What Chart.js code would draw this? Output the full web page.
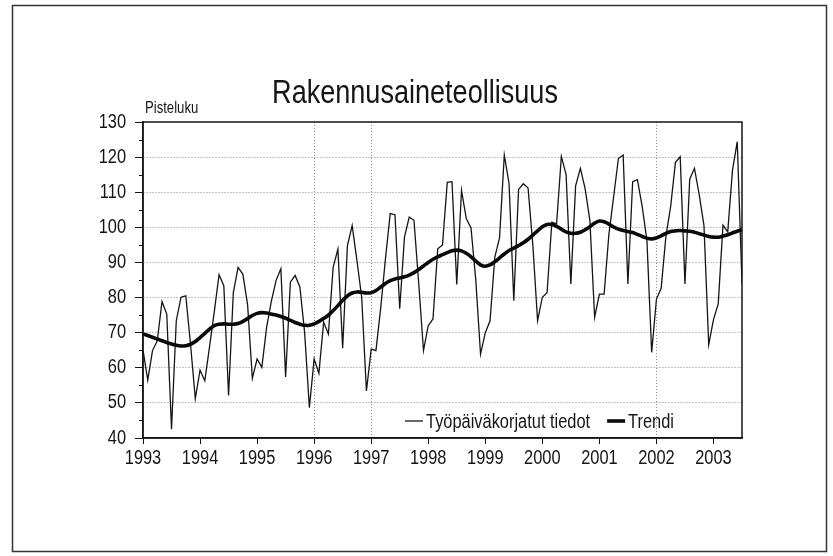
<!DOCTYPE html>
<html>
<head>
<meta charset="utf-8">
<script src="https://cdn.jsdelivr.net/npm/chart.js@4.4.0/dist/chart.umd.min.js"></script>
<style>
  html, body { margin: 0; padding: 0; background: #fff; }
  #chart { display: block; }
</style>
</head>
<body>
<canvas id="chart" width="833" height="556"></canvas>
<script>
// monthly series, Jan 1993 .. Jul 2003
const startYear = 1993;
const yearTicks = [1993, 1994, 1995, 1996, 1997, 1998, 1999, 2000, 2001, 2002, 2003];
const valueTicks = [40, 50, 60, 70, 80, 90, 100, 110, 120, 130];
const seriesLabels = ['Työpäiväkorjatut tiedot', 'Trendi'];
const chartTitle = 'Rakennusaineteollisuus';
const unitLabel = 'Pisteluku';

const adjusted = [
  65, 56.5, 64.9, 67.7, 78.9, 75.3, 42.5, 73.4, 80.1, 80.5, 66.7, 51.2,      // 1993
  59.3, 56.3, 66, 76, 86.5, 83.4, 52.1, 81.4, 88.6, 86.7, 78, 57,            // 1994
  62.5, 60.1, 71.5, 79, 84.9, 88.2, 57.4, 84.4, 86.3, 83, 70, 48.6,          // 1995
  62.5, 58.4, 73, 69.6, 88.6, 93.8, 65.6, 94.8, 100.5, 90.6, 80.1, 53.4,     // 1996
  65.3, 64.9, 77, 91, 103.9, 103.6, 76.8, 97.2, 102.9, 102, 84, 64.9,        // 1997
  72, 73.9, 93.9, 95, 112.8, 113, 83.7, 110.5, 102.5, 99.8, 85, 63.9,        // 1998
  70, 73.4, 91.5, 97, 120.6, 112.5, 79.1, 110.8, 112.4, 111.2, 95, 73.4,     // 1999
  80.1, 81.4, 101.5, 101, 120.2, 115, 83.9, 111.8, 116.8, 111, 102, 74.4,    // 2000
  81, 81, 98, 108.7, 119.6, 120.6, 83.9, 113, 113.6, 106, 96.3, 64.4,        // 2001
  79.5, 82.7, 97.5, 106, 118.5, 120.1, 83.9, 113.7, 116.8, 109.3, 100.5, 66.6, // 2002
  73.7, 78.2, 100.6, 98.7, 116.3, 124.4, 84                                  // 2003
];

const trend = [
  69.6, 69.2, 68.7, 68.2, 67.7, 67.2, 66.8, 66.4, 66.2, 66.3, 66.7, 67.5,
  68.6, 69.8, 71.0, 72.0, 72.4, 72.5, 72.4, 72.4, 72.6, 73.2, 74.0, 74.9,
  75.5, 75.7, 75.6, 75.3, 75.0, 74.6, 74.1, 73.5, 72.9, 72.4, 72.1, 72.1,
  72.5, 73.2, 74.0, 75.0, 76.3, 77.7, 79.2, 80.5, 81.3, 81.6, 81.5, 81.3,
  81.4, 82.0, 83.0, 84.0, 84.8, 85.3, 85.6, 85.9, 86.4, 87.1, 88.0, 89.0,
  90.0, 90.9, 91.6, 92.2, 92.8, 93.3, 93.5, 93.3, 92.6, 91.6, 90.4, 89.3,
  88.9, 89.3, 90.2, 91.3, 92.4, 93.4, 94.1, 94.8, 95.6, 96.6, 97.8, 99.0,
  100.2, 100.8, 100.8, 100.3, 99.5, 98.7, 98.3, 98.3, 98.6, 99.3, 100.2, 101.2,
  101.8, 101.6, 100.9, 100.1, 99.5, 99.1, 98.8, 98.5, 98.0, 97.4, 96.9, 96.7,
  97.0, 97.6, 98.3, 98.8, 99.0, 99.1, 99.0, 98.9, 98.6, 98.2, 97.8, 97.4,
  97.2, 97.2, 97.5, 97.9, 98.4, 98.9, 99.3
];

const FONT = '"Liberation Sans Narrow", "Arial Narrow", "Liberation Sans", Arial, sans-serif';
const INK = '#151515';
const SQUEEZE = 0.82; // no narrow face installed, so condense the regular one

const toPoints = arr => arr.map((v, i) => ({ x: startYear + i / 12, y: v }));

// draws real text, horizontally condensed
function narrowText(ctx, text, x, y, size, align, baseline) {
  ctx.save();
  ctx.font = size + 'px ' + FONT;
  ctx.fillStyle = INK;
  ctx.textAlign = align;
  ctx.textBaseline = baseline;
  ctx.translate(x, y);
  ctx.scale(SQUEEZE, 1);
  ctx.fillText(text, 0, 0);
  ctx.restore();
}

function narrowWidth(ctx, text, size) {
  ctx.save();
  ctx.font = size + 'px ' + FONT;
  const w = ctx.measureText(text).width * SQUEEZE;
  ctx.restore();
  return w;
}

Chart.defaults.font.family = FONT;
Chart.defaults.color = INK;

const decor = {
  id: 'decor',
  afterDraw(chart) {
    const ctx = chart.ctx;
    const area = chart.chartArea;
    const xs = chart.scales.x;
    const ys = chart.scales.y;
    ctx.save();

    // outer frame
    ctx.strokeStyle = '#333';
    ctx.lineWidth = 1.5;
    ctx.strokeRect(12.5, 5.5, 814, 546);

    // plot frame
    ctx.strokeStyle = INK;
    ctx.lineWidth = 1.5;
    ctx.strokeRect(area.left, area.top, area.right - area.left, area.bottom - area.top);

    // minor ticks on the value axis
    ctx.lineWidth = 1;
    for (let v = 45; v < 130; v += 10) {
      const py = Math.round(ys.getPixelForValue(v)) + 0.5;
      ctx.beginPath();
      ctx.moveTo(area.left - 4, py);
      ctx.lineTo(area.left, py);
      ctx.stroke();
    }

    // tick labels
    valueTicks.forEach(v => {
      narrowText(ctx, String(v), area.left - 17, ys.getPixelForValue(v), 20, 'right', 'middle');
    });
    yearTicks.forEach(v => {
      narrowText(ctx, String(v), xs.getPixelForValue(v), area.bottom + 10, 20, 'center', 'top');
    });

    // title and unit
    narrowText(ctx, chartTitle, 415, 103, 33, 'center', 'alphabetic');
    narrowText(ctx, unitLabel, 145, 113, 16, 'left', 'alphabetic');

    // legend inside the plot, bottom right
    const ds = chart.data.datasets;
    const sample = 18, gapText = 3, gapItem = 17;
    let total = 0;
    ds.forEach((d, i) => {
      total += sample + gapText + narrowWidth(ctx, d.label, 20) + (i < ds.length - 1 ? gapItem : 0);
    });
    let x = area.right - 68 - total;
    const base = area.bottom - 10;
    ds.forEach(d => {
      ctx.strokeStyle = d.borderColor;
      ctx.lineWidth = d.borderWidth;
      ctx.beginPath();
      ctx.moveTo(x, base - 7);
      ctx.lineTo(x + sample, base - 7);
      ctx.stroke();
      x += sample + gapText;
      narrowText(ctx, d.label, x, base, 20, 'left', 'alphabetic');
      x += narrowWidth(ctx, d.label, 20) + gapItem;
    });
    ctx.restore();
  }
};

const shownYearGrid = [1996, 1997, 2002];

new Chart(document.getElementById('chart'), {
  type: 'line',
  data: {
    datasets: [{
      label: seriesLabels[0],
      data: toPoints(adjusted),
      borderColor: INK,
      borderWidth: 1.3,
      pointRadius: 0,
      tension: 0,
      order: 1
    }, {
      label: seriesLabels[1],
      data: toPoints(trend),
      borderColor: '#0a0a0a',
      borderWidth: 3.6,
      pointRadius: 0,
      tension: 0.4,
      order: 0
    }]
  },
  options: {
    responsive: false,
    animation: false,
    devicePixelRatio: 1,
    layout: { padding: { left: 0, right: 91, top: 122, bottom: 78 } },
    plugins: {
      legend: { display: false },
      tooltip: { enabled: false }
    },
    scales: {
      x: {
        type: 'linear',
        min: 1993,
        max: 2003.5,
        afterFit: s => { s.height = 40; },
        afterBuildTicks: s => { s.ticks = yearTicks.map(v => ({ value: v })); },
        ticks: {
          autoSkip: false,
          maxRotation: 0,
          padding: 1,
          color: 'rgba(0,0,0,0)',
          font: { size: 20 },
          callback: v => String(v)
        },
        grid: {
          color: c => shownYearGrid.includes(c.tick && c.tick.value) ? '#8a8a8a' : 'rgba(0,0,0,0)',
          lineWidth: 1,
          tickLength: 6,
          tickColor: INK
        },
        border: { color: INK, width: 1.5, dash: [1, 2] }
      },
      y: {
        min: 40,
        max: 130,
        afterFit: s => { s.width = 143; },
        ticks: {
          stepSize: 10,
          padding: 9,
          color: 'rgba(0,0,0,0)',
          font: { size: 20 }
        },
        grid: {
          color: c => (c.tick && (c.tick.value === 40 || c.tick.value === 130)) ? 'rgba(0,0,0,0)' : '#8a8a8a',
          lineWidth: 1,
          tickLength: 8,
          tickColor: INK
        },
        border: { color: INK, width: 1.5, dash: [1, 2] }
      }
    }
  },
  plugins: [decor]
});
</script>
</body>
</html>
